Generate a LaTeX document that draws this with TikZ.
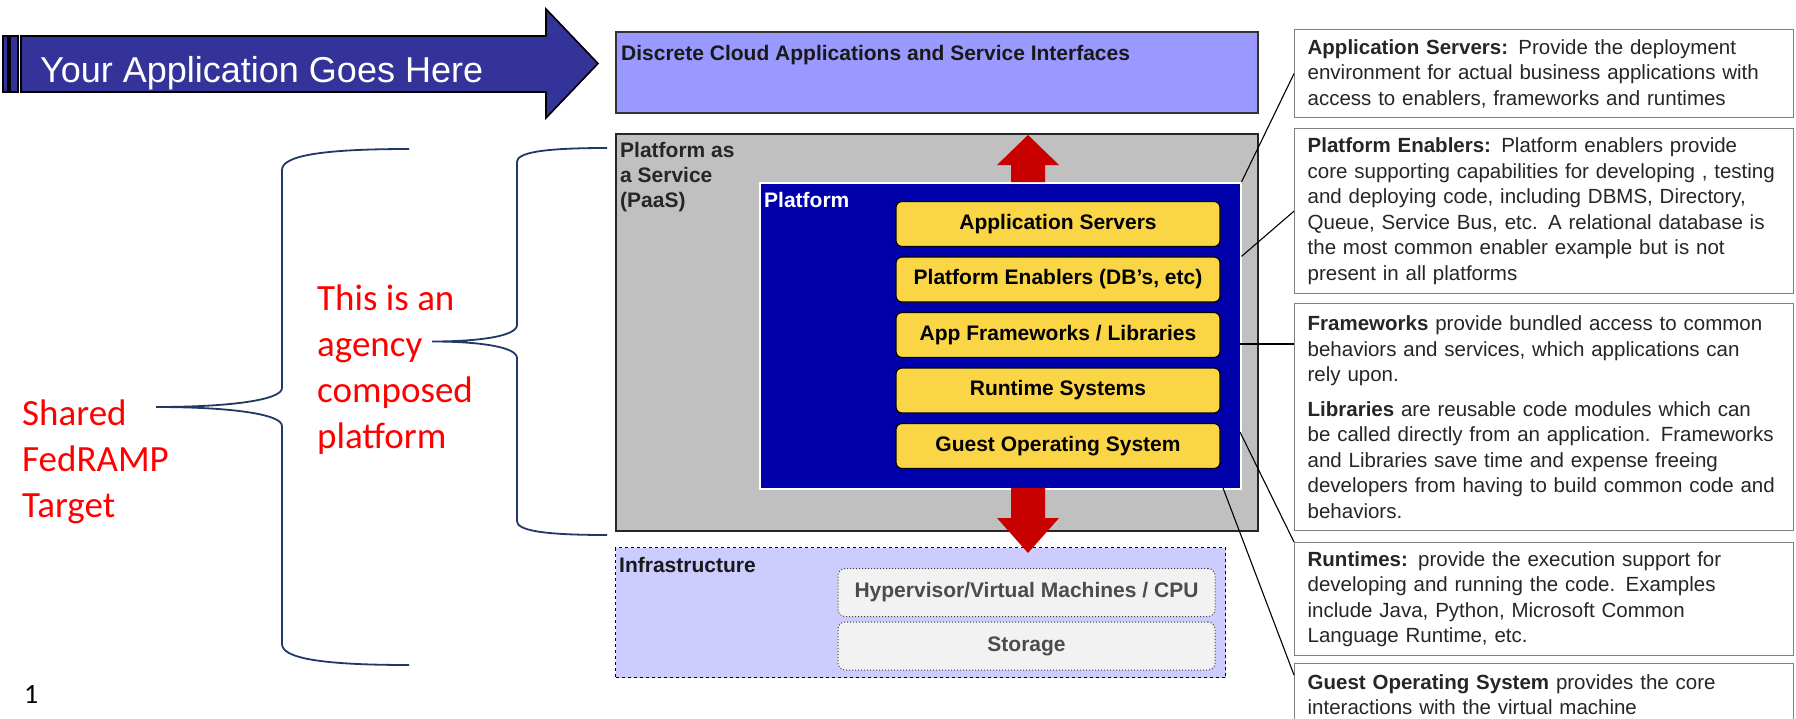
\documentclass[tikz,border=0pt]{standalone}
\usepackage{fontspec}
\setmainfont{Liberation Sans}
\newfontfamily\calfont{Carlito}
\usepackage{xcolor}
\usepackage{tikz}

\definecolor{arrowblue}{RGB}{51,51,153}
\definecolor{appviolet}{RGB}{153,153,255}
\definecolor{paasgray}{RGB}{192,192,192}
\definecolor{platblue}{RGB}{0,0,170}
\definecolor{layeryellow}{RGB}{250,214,70}
\definecolor{liftred}{RGB}{200,0,0}
\definecolor{infralilac}{RGB}{204,204,255}
\definecolor{bracenavy}{RGB}{32,56,100}
\definecolor{notered}{RGB}{255,0,0}

\begin{document}
\begin{tikzpicture}[x=1pt,y=-1pt,
  boxlbl/.style={inner sep=0pt,font=\bfseries\fontsize{21}{25}\selectfont},
  layer/.style={draw=black,line width=1.2pt,fill=layeryellow,rounded corners=6pt,
    minimum width=324pt,minimum height=45pt,inner sep=0pt,font=\bfseries\fontsize{21}{25}\selectfont},
  hwbox/.style={draw=black!75,dotted,line width=1pt,fill=black!5,rounded corners=7pt,
    minimum width=377pt,minimum height=48pt,inner sep=0pt,text=black!70,font=\bfseries\fontsize{21}{25}\selectfont},
  note/.style={draw=black!50,line width=1.3pt,fill=white,anchor=north west,align=left,
    text width=473pt,inner xsep=13pt,inner ysep=0pt,text=black!85,font=\fontsize{20.5}{25.5}\selectfont},
  lead/.style={black,line width=1.1pt},
  curly/.style={bracenavy,line width=1.8pt},
  tag/.style={notered,anchor=north west,align=left,inner sep=0pt,font=\calfont\fontsize{37}{46}\selectfont}]
  \useasboundingbox (0,0) rectangle (1796,718);
  \clip (0,0) rectangle (1796,718);

  \foreach \a/\b in {3/8,10/18}{
    \draw[line width=1.2pt,fill=arrowblue] (\a,36) rectangle (\b,92);
  }
  \draw[line width=1.6pt,fill=arrowblue] (21,36) -- (546,36) -- (546,9) -- (598,63.5)
    -- (546,118) -- (546,92) -- (21,92) -- cycle;
  \node[white,anchor=base west,inner sep=0pt,font=\fontsize{36}{40}\selectfont] (yourapp) at (40,82) {Your Application Goes Here};

  \node[draw=black!80,line width=1.5pt,fill=appviolet,anchor=north west,minimum width=642pt,minimum height=81pt] (apps) at (615,31) {};
  \node[boxlbl,anchor=base west,text=black!90] at (621,60) {Discrete Cloud Applications and Service Interfaces};

  \node[draw=black!85,line width=1.5pt,fill=paasgray,anchor=north west,minimum width=642pt,minimum height=397pt] (paas) at (615,133) {};
  \node[boxlbl,anchor=north west,align=left,text=black!85] (paaslbl) at (620,142) {Platform as\\a Service\\(PaaS)};
  \node[draw=white,line width=1.5pt,fill=platblue,anchor=north west,minimum width=481pt,minimum height=306pt] (plat) at (759,182) {};
  \node[boxlbl,anchor=base west,white] (platlbl) at (764,207) {Platform};
  \foreach \nm/\lbl [count=\i from 0] in {srv/Application Servers,enab/{Platform Enablers (DB's, etc)},
      fw/{App Frameworks / Libraries},rt/Runtime Systems,gos/Guest Operating System}
    \node[layer] (\nm) at (1058,224+55.5*\i) {\lbl};

  \node[draw=black,dashed,line width=1.2pt,fill=infralilac,anchor=north west,minimum width=610pt,minimum height=130pt] (infra) at (615,547) {};
  \node[boxlbl,anchor=base west,text=black!90] (infralbl) at (619,572) {Infrastructure};
  \node[hwbox] (hyp) at (1026.5,592.5) {Hypervisor/Virtual Machines / CPU};
  \node[hwbox] (stor) at (1026.5,646) {Storage};

  \fill[liftred] (1011,182) -- (1011,165) -- (997,165) -- (1028,135) -- (1059,165) -- (1045,165) -- (1045,182) -- cycle;
  \fill[liftred] (1011,488) -- (1011,518) -- (997,518) -- (1028,553) -- (1059,518) -- (1045,518) -- (1045,488) -- cycle;

  \node[note,minimum height=88pt] (d1) at (1294,29) {\textbf{Application Servers:} Provide the deployment\\
    environment for actual business applications with\\access to enablers, frameworks and runtimes};
  \node[note,minimum height=165pt] (d2) at (1294,128) {\textbf{Platform Enablers:}  Platform enablers provide\\
    core supporting capabilities for developing , testing\\and deploying code, including DBMS,  Directory,\\
    Queue, Service Bus, etc.  A relational database is\\the most common enabler example but is not\\present in all platforms};
  \node[note,minimum height=227pt] (d3) at (1294,303) {\textbf{Frameworks} provide bundled access to common\\
    behaviors and services, which applications can\\rely upon.\\[9pt]
    \textbf{Libraries} are reusable code modules which can\\be called directly from an application.  Frameworks\\
    and Libraries save time and expense freeing\\developers from having to build common code and\\behaviors.};
  \node[note,minimum height=113pt] (d4) at (1294,542) {\textbf{Runtimes:} provide the execution support  for\\
    developing and running the code.  Examples\\include Java, Python, Microsoft Common\\Language Runtime, etc.};
  \node[note,minimum height=62pt] (d5) at (1294,663) {\textbf{Guest Operating System}  provides the core\\
    interactions with the virtual machine};

  \coordinate (fwtap) at (1240,344);
  \coordinate (rttap) at (1240,432);
  \coordinate (gostap) at (1223,488);
  \draw[lead] (plat.north east) -- (d1.west);
  \draw[lead] (plat.east |- enab.north) -- (d2.west);
  \draw[lead] (fwtap) -- (fwtap -| d3.west);
  \draw[lead] (rttap) -- (d4.north west);
  \draw[lead] (gostap) -- ([yshift=-12pt]d5.north west);

  \draw[curly] (409,149) .. controls (320,149) and (282,156) .. (282,170) -- (282,388)
    .. controls (282,400) and (230,407) .. (156,407) .. controls (230,407) and (282,414) .. (282,426)
    -- (282,644) .. controls (282,658) and (320,665) .. (409,665);
  \draw[curly] (607,148) .. controls (540,148) and (517,153) .. (517,162) -- (517,325)
    .. controls (517,336) and (480,341.5) .. (432,341.5) .. controls (480,341.5) and (517,347) .. (517,358)
    -- (517,521) .. controls (517,530) and (540,535) .. (607,535);
  \node[tag] (shared) at (22,400) {Shared\\FedRAMP\\Target};
  \node[tag] (agency) at (317,285) {This is an\\agency\\composed\\platform};
  \node[anchor=base west,inner sep=0pt,font=\calfont\fontsize{28}{30}\selectfont] (pagenum) at (24,703) {1};
\end{tikzpicture}
\end{document}
